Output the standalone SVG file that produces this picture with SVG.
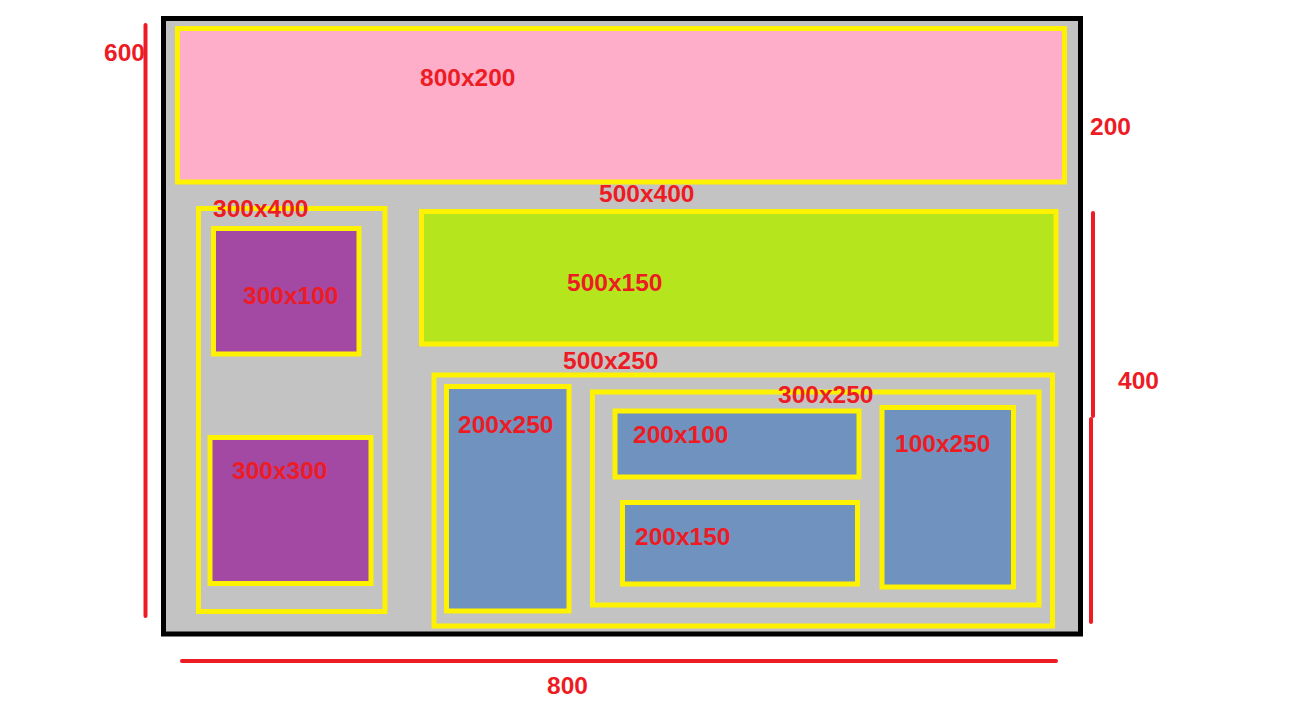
<svg xmlns="http://www.w3.org/2000/svg" width="1312" height="704" viewBox="0 0 1312 704">
<style>
.box{stroke:#FFF200;stroke-width:5}
.grey{fill:#C3C3C3}
.pink{fill:#FFAEC9}
.green{fill:#B5E61D}
.purple{fill:#A349A4}
.blue{fill:#7092BE}
.lbl{font-family:"Liberation Sans",Arial,sans-serif;font-weight:bold;font-size:24.5px;fill:#ED1C24}
.dim{stroke:#ED1C24;stroke-width:4;stroke-linecap:round;fill:none}
</style>
<rect width="1312" height="704" fill="#FFFFFF"/>
<g id="page">
<rect x="163.5" y="18.5" width="917" height="615.5" fill="#C3C3C3" stroke="#000000" stroke-width="5"/>
</g>
<g id="header">
<rect class="box pink" x="177.5" y="28.5" width="887" height="153.5"/>
<text class="lbl" x="420" y="86">800x200</text>
</g>
<g id="sidebar">
<rect class="box grey" x="198.5" y="208.5" width="186.5" height="403"/>
<text class="lbl" x="213" y="217">300x400</text>
</g>
<g id="side-top">
<rect class="box purple" x="213.5" y="228.5" width="145.5" height="125.5"/>
<text class="lbl" x="243" y="304">300x100</text>
</g>
<g id="side-bottom">
<rect class="box purple" x="210" y="437.5" width="161" height="146"/>
<text class="lbl" x="232" y="479">300x300</text>
</g>
<g id="main-label">
<text class="lbl" x="599" y="202">500x400</text>
</g>
<g id="banner">
<rect class="box green" x="421.5" y="211.5" width="634.5" height="132.5"/>
<text class="lbl" x="567" y="291">500x150</text>
</g>
<g id="content">
<rect class="box grey" x="434" y="375" width="618.5" height="251"/>
<text class="lbl" x="563" y="369">500x250</text>
</g>
<g id="col-left">
<rect class="box blue" x="446.5" y="386.5" width="122.5" height="224.5"/>
<text class="lbl" x="458" y="433">200x250</text>
</g>
<g id="col-right">
<rect class="box grey" x="592.5" y="392" width="446.5" height="213"/>
<text class="lbl" x="778" y="403">300x250</text>
</g>
<g id="cell-a">
<rect class="box blue" x="615" y="411" width="244" height="66"/>
<text class="lbl" x="633" y="443">200x100</text>
</g>
<g id="cell-b">
<rect class="box blue" x="622.5" y="502.5" width="235" height="81.5"/>
<text class="lbl" x="635" y="545">200x150</text>
</g>
<g id="cell-c">
<rect class="box blue" x="882" y="407.5" width="131.5" height="179.5"/>
<text class="lbl" x="895" y="452">100x250</text>
</g>
<g id="dimensions">
<line class="dim" x1="145.5" y1="25" x2="145.5" y2="616"/>
<line class="dim" x1="1093" y1="213" x2="1093" y2="416"/>
<line class="dim" x1="1091" y1="419" x2="1091" y2="622"/>
<line class="dim" x1="182" y1="661" x2="1056" y2="661"/>
<text class="lbl" x="104" y="61">600</text>
<text class="lbl" x="1090" y="135">200</text>
<text class="lbl" x="1118" y="389">400</text>
<text class="lbl" x="547" y="694">800</text>
</g>
</svg>
